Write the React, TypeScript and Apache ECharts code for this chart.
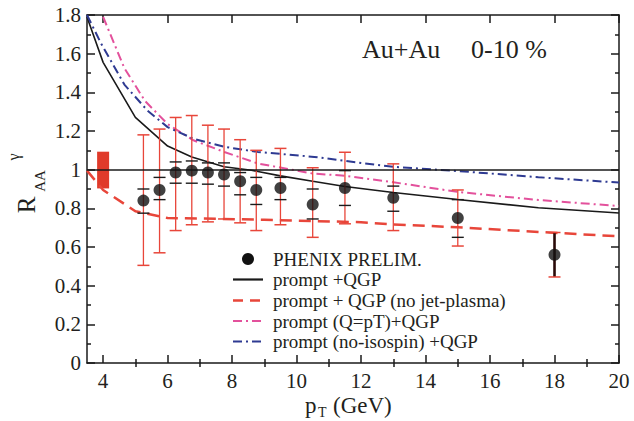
import React, { useEffect, useRef } from "react";
import * as echarts from "echarts";

// ---- data ----
const ptPoints = [5.25, 5.75, 6.25, 6.75, 7.25, 7.75, 8.25, 8.75, 9.5, 10.5, 11.5, 13, 15, 18];
const raaPoints = [0.84, 0.895, 0.985, 0.995, 0.985, 0.975, 0.94, 0.895, 0.905, 0.82, 0.905, 0.855, 0.75, 0.56];
const statHi = [1.18, 1.21, 1.27, 1.28, 1.23, 1.21, 1.155, 1.1, 1.11, 1.01, 1.09, 1.03, 0.895, 0.675];
const statLo = [0.505, 0.57, 0.685, 0.715, 0.73, 0.745, 0.725, 0.685, 0.715, 0.65, 0.72, 0.685, 0.605, 0.445];
const sysHi = [0.9, 0.96, 1.04, 1.045, 1.035, 1.035, 0.985, 0.96, 0.96, 0.9, 0.995, 0.915, 0.845, 0.675];
const sysLo = [0.775, 0.845, 0.93, 0.93, 0.925, 0.915, 0.87, 0.82, 0.845, 0.745, 0.815, 0.785, 0.65, 0.445];
const sysAsBar = [false, false, false, false, false, false, false, false, false, false, false, false, false, true];

const normBox = [4, 0.903, 1.093]; // [pT, low, high]

const promptQgpX = [3.5, 4, 5, 6, 6.75, 7.75, 8.6, 9.5, 10.5, 11.5, 13, 15, 17.5, 20];
const promptQgpY = [1.79, 1.555, 1.27, 1.122, 1.066, 1.015, 0.997, 0.968, 0.94, 0.913, 0.882, 0.846, 0.803, 0.776];

const noJetX = [3.5, 4, 5, 6, 7.5, 9, 12, 13, 15, 17.5, 20];
const noJetY = [0.995, 0.895, 0.785, 0.75, 0.746, 0.741, 0.728, 0.717, 0.702, 0.678, 0.655];

const qptX = [4, 4.66, 5.3, 6, 6.8, 7.75, 8.8, 10.5, 11.4, 13, 15, 17.5, 20];
const qptY = [1.79, 1.525, 1.355, 1.236, 1.152, 1.092, 1.032, 0.98, 0.97, 0.935, 0.885, 0.843, 0.812];

const noIsoX = [3.5, 3.93, 4.66, 5.38, 6, 6.83, 7.76, 8.79, 10.55, 12, 13, 15, 17.5, 20];
const noIsoY = [1.8, 1.655, 1.44, 1.305, 1.22, 1.158, 1.118, 1.092, 1.066, 1.035, 1.015, 0.993, 0.961, 0.933];

const xMajor = [4, 6, 8, 10, 12, 14, 16, 18, 20];
const xMinor = [5, 7, 9, 11, 13, 15, 17, 19];

const legendLabels = [
  "PHENIX PRELIM.",
  "prompt +QGP",
  "prompt + QGP (no jet-plasma)",
  "prompt (Q=pT)+QGP",
  "prompt (no-isospin) +QGP",
];

const zip = (xs: number[], ys: number[]) => xs.map((x, i) => [x, ys[i]]);

const SERIF = "Liberation Serif";
const RED = "#e8463a";
const PINK = "#e3519c";
const BLUE = "#2e3a92";
const TXT = "#231f20";

export default function App() {
  const ref = useRef<HTMLDivElement>(null);

  useEffect(() => {
    if (!ref.current) return;
    const chart = echarts.init(ref.current, undefined, { renderer: "svg" });

    const xBase = {
      type: "value",
      min: 3.5,
      max: 20,
      splitLine: { show: false },
    };
    const yBase = {
      type: "value",
      min: 0,
      max: 1.8,
      interval: 0.2,
      splitLine: { show: false },
    };
    const axisLineStyle = { color: "#1a1a1a", width: 1.5 };

    const legendRows = [259, 279.5, 300.5, 321, 341.5];
    const lx0 = 233;
    const lx1 = 263;

    const txt = (text: string, x: number, y: number, size: number, extra: any = {}) => ({
      type: "text",
      x,
      y,
      ...extra,
      style: {
        text,
        fontSize: size,
        fontFamily: SERIF,
        fill: TXT,
        align: extra.align || "left",
        verticalAlign: "middle",
        textAlign: extra.align || "left",
        textVerticalAlign: "middle",
      },
    });

    const option: any = {
      animation: false,
      backgroundColor: "#ffffff",
      grid: {
        left: 87,
        right: 15,
        top: 15,
        bottom: 58,
        containLabel: false,
        outerBoundsMode: "none",
      },
      xAxis: [
        {
          ...xBase,
          position: "bottom",
          axisLine: { show: true, onZero: false, lineStyle: axisLineStyle },
          axisTick: { show: true, inside: true, length: 8, lineStyle: axisLineStyle, customValues: xMajor },
          axisLabel: {
            show: true,
            customValues: xMajor,
            fontSize: 21,
            fontFamily: SERIF,
            color: TXT,
            margin: 7,
          },
        },
        {
          ...xBase,
          position: "bottom",
          axisLine: { show: false },
          axisTick: { show: true, inside: true, length: 4, lineStyle: axisLineStyle, customValues: xMinor },
          axisLabel: { show: false },
        },
        {
          ...xBase,
          position: "top",
          axisLine: { show: true, onZero: false, lineStyle: axisLineStyle },
          axisTick: { show: true, inside: true, length: 8, lineStyle: axisLineStyle, customValues: xMajor },
          axisLabel: { show: false },
        },
        {
          ...xBase,
          position: "top",
          axisLine: { show: false },
          axisTick: { show: true, inside: true, length: 4, lineStyle: axisLineStyle, customValues: xMinor },
          axisLabel: { show: false },
        },
      ],
      yAxis: [
        {
          ...yBase,
          position: "left",
          axisLine: { show: true, onZero: false, lineStyle: axisLineStyle },
          axisTick: { show: true, inside: true, length: 8, lineStyle: axisLineStyle },
          minorTick: { show: true, splitNumber: 2, length: 4, lineStyle: axisLineStyle },
          axisLabel: {
            show: true,
            fontSize: 21,
            fontFamily: SERIF,
            color: TXT,
            margin: 6,
            showMinLabel: true,
            showMaxLabel: true,
          },
        },
        {
          ...yBase,
          position: "right",
          axisLine: { show: true, onZero: false, lineStyle: axisLineStyle },
          axisTick: { show: true, inside: true, length: 8, lineStyle: axisLineStyle },
          minorTick: { show: true, splitNumber: 2, length: 4, lineStyle: axisLineStyle },
          axisLabel: { show: false },
        },
      ],
      series: [
        {
          type: "custom",
          name: "norm",
          xAxisIndex: 0,
          yAxisIndex: 0,
          data: [normBox],
          encode: { x: 0, y: [1, 2] },
          z: 2,
          renderItem: (params: any, api: any) => {
            const p0 = api.coord([api.value(0), api.value(2)]);
            const p1 = api.coord([api.value(0), api.value(1)]);
            return {
              type: "rect",
              shape: { x: p0[0] - 6, y: p0[1], width: 12, height: p1[1] - p0[1] },
              style: { fill: "#e03a2a" },
            };
          },
        },
        {
          type: "line",
          name: "prompt +QGP",
          data: zip(promptQgpX, promptQgpY),
          showSymbol: false,
          symbol: "none",
          lineStyle: { color: "#1a1a1a", width: 1.6, type: "solid" },
          z: 3,
          markLine: {
            silent: true,
            symbol: "none",
            label: { show: false },
            lineStyle: { color: "#1a1a1a", width: 1.5, type: "solid" },
            data: [{ yAxis: 1 }],
          },
        },
        {
          type: "line",
          name: "prompt + QGP (no jet-plasma)",
          data: zip(noJetX, noJetY),
          showSymbol: false,
          symbol: "none",
          lineStyle: { color: RED, width: 2.5, type: [12, 7] },
          z: 3,
        },
        {
          type: "line",
          name: "prompt (Q=pT)+QGP",
          data: zip(qptX, qptY),
          showSymbol: false,
          symbol: "none",
          lineStyle: { color: PINK, width: 2, type: [9, 4, 2, 4] },
          z: 3,
        },
        {
          type: "line",
          name: "prompt (no-isospin) +QGP",
          data: zip(noIsoX, noIsoY),
          showSymbol: false,
          symbol: "none",
          lineStyle: { color: BLUE, width: 2, type: [9, 4, 2, 4] },
          z: 3,
        },
        {
          type: "custom",
          name: "errors",
          xAxisIndex: 0,
          yAxisIndex: 0,
          data: ptPoints.map((x, i) => [x, statLo[i], statHi[i], sysLo[i], sysHi[i], sysAsBar[i] ? 1 : 0]),
          encode: { x: 0, y: [1, 2] },
          z: 4,
          renderItem: (params: any, api: any) => {
            const x = api.value(0);
            const sLo = api.coord([x, api.value(1)]);
            const sHi = api.coord([x, api.value(2)]);
            const yLo = api.coord([x, api.value(3)]);
            const yHi = api.coord([x, api.value(4)]);
            const bar = api.value(5) === 1;
            const cx = sLo[0];
            const cap = 6;
            const children: any[] = [];
            if (bar) {
              children.push({
                type: "line",
                shape: { x1: cx, y1: yLo[1], x2: cx, y2: yHi[1] },
                style: { stroke: "#2a0a08", lineWidth: 2.6 },
              });
            } else {
              children.push({
                type: "line",
                shape: { x1: cx, y1: sLo[1], x2: cx, y2: sHi[1] },
                style: { stroke: RED, lineWidth: 1.3 },
              });
              children.push({
                type: "line",
                shape: { x1: cx - cap, y1: yLo[1], x2: cx + cap, y2: yLo[1] },
                style: { stroke: "#1a1a1a", lineWidth: 1.4 },
              });
              children.push({
                type: "line",
                shape: { x1: cx - cap, y1: yHi[1], x2: cx + cap, y2: yHi[1] },
                style: { stroke: "#1a1a1a", lineWidth: 1.4 },
              });
            }
            children.push({
              type: "line",
              shape: { x1: cx - cap, y1: sLo[1], x2: cx + cap, y2: sLo[1] },
              style: { stroke: RED, lineWidth: 1.5 },
            });
            children.push({
              type: "line",
              shape: { x1: cx - cap, y1: sHi[1], x2: cx + cap, y2: sHi[1] },
              style: { stroke: RED, lineWidth: 1.5 },
            });
            return { type: "group", children };
          },
        },
        {
          type: "scatter",
          name: "PHENIX PRELIM.",
          data: zip(ptPoints, raaPoints),
          symbol: "circle",
          symbolSize: 12,
          itemStyle: { color: "#111111" },
          z: 6,
        },
      ],
      graphic: [
        // title
        txt("Au+Au", 362, 49, 26),
        txt("0-10 %", 471, 49, 26),
        // y axis name R_AA^gamma
        txt("R", 26, 205, 25, { rotation: Math.PI / 2, align: "center" }),
        txt("AA", 40, 181, 15, { rotation: Math.PI / 2, align: "center" }),
        txt("γ", 13, 157, 16, { rotation: Math.PI / 2, align: "center" }),
        // x axis name p_T (GeV)
        txt("p", 305, 405, 23),
        txt("T", 318, 412.5, 14),
        txt("(GeV)", 333, 405, 23),
        // legend
        {
          type: "circle",
          shape: { cx: 248, cy: legendRows[0], r: 6 },
          style: { fill: "#111111" },
        },
        {
          type: "line",
          shape: { x1: lx0, y1: legendRows[1], x2: lx1, y2: legendRows[1] },
          style: { stroke: "#1a1a1a", lineWidth: 2.2 },
        },
        {
          type: "line",
          shape: { x1: lx0, y1: legendRows[2], x2: lx1, y2: legendRows[2] },
          style: { stroke: RED, lineWidth: 2.5, lineDash: [10, 7] },
        },
        {
          type: "line",
          shape: { x1: lx0, y1: legendRows[3], x2: lx1, y2: legendRows[3] },
          style: { stroke: PINK, lineWidth: 2, lineDash: [9, 4, 2, 4] },
        },
        {
          type: "line",
          shape: { x1: lx0, y1: legendRows[4], x2: lx1, y2: legendRows[4] },
          style: { stroke: BLUE, lineWidth: 2, lineDash: [9, 4, 2, 4] },
        },
        ...legendLabels.map((t, i) => txt(t, 273, legendRows[i], 19)),
      ],
    };

    chart.setOption(option);
    return () => {
      chart.dispose();
    };
  }, []);

  return (
    <div
      ref={ref}
      style={{ position: "absolute", left: 0, top: 0, width: 634, height: 421, background: "#fff" }}
    />
  );
}
